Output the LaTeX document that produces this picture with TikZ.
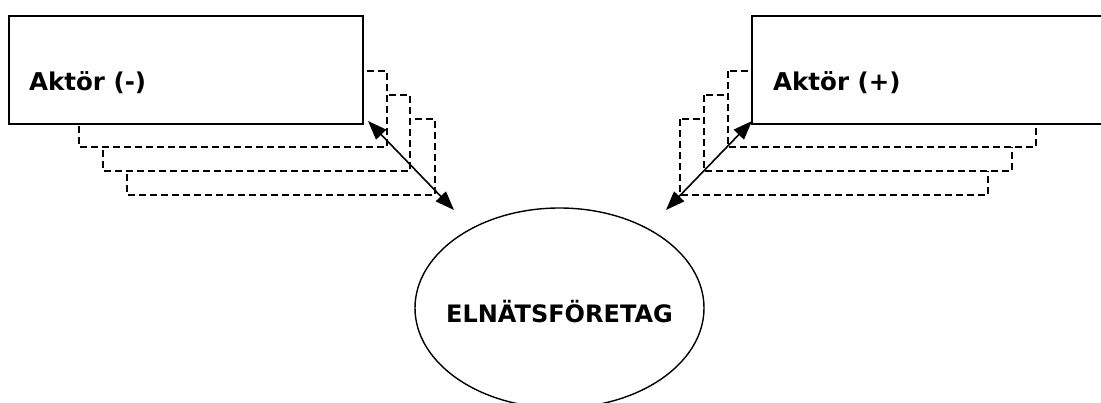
\documentclass[tikz,border=0pt]{standalone}
\usepackage{fontspec}
\setmainfont{DejaVu Sans}
\usetikzlibrary{arrows.meta,shapes.geometric}
\tikzset{
  mainbox/.style={draw=black,line width=1.6pt,fill=white,rectangle,inner sep=0pt},
  shadowbox/.style={draw=black,fill=white,line width=1.3pt,dash pattern=on 7pt off 4pt},
  lbl/.style={font=\fontsize{24.5}{28}\selectfont\bfseries,inner sep=0pt},
  link/.style={line width=1.6pt,{Triangle[length=19pt,width=14pt]}-{Triangle[length=19pt,width=14pt]}},
}
\begin{document}
\begin{tikzpicture}[x=1pt,y=-1pt]
\useasboundingbox (0,0) rectangle (1101,403);
\clip (0,0) rectangle (1101,403);
\fill[white] (0,0) rectangle (1101,403);
% left stacked shadows
\draw[shadowbox] (127,119) rectangle (435,195);
\draw[shadowbox] (103,95) rectangle (410,171);
\draw[shadowbox] (79,71) rectangle (387,147);
% right stacked shadows
\draw[shadowbox] (680,119) rectangle (988,195);
\draw[shadowbox] (704,95) rectangle (1012,171);
\draw[shadowbox] (728,71) rectangle (1036,147);
% main boxes
\node[mainbox,minimum width=354pt,minimum height=108pt] (minus) at (186,70) {};
\node[mainbox,minimum width=354pt,minimum height=108pt] (plus) at (929,70) {};
\node[lbl,anchor=base west] (tminus) at (29,91) {Aktör (-)};
\node[lbl,anchor=base west] (tplus) at (773,91) {Aktör (+)};
% ellipse
\node[draw=black,line width=1.4pt,ellipse,minimum width=289pt,minimum height=200pt,inner sep=0pt] (el) at (559.5,308) {};
\node[lbl,font=\fontsize{24}{28}\selectfont\bfseries] (tel) at (559.5,312) {ELNÄTSFÖRETAG};
% arrows
\coordinate (m1) at (368,121);
\coordinate (m2) at (454,210);
\coordinate (p1) at (752,121);
\coordinate (p2) at (666,210);
\draw[link] (m1) -- (m2);
\draw[link] (p1) -- (p2);
\end{tikzpicture}
\end{document}
